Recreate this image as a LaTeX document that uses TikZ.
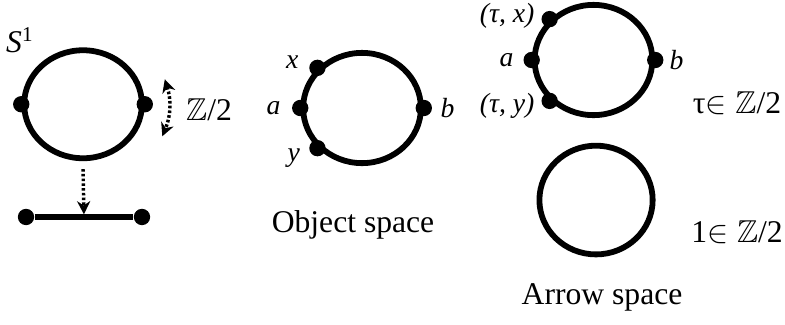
\documentclass[tikz,border=0pt]{standalone}
\usepackage{fontspec}
\usepackage{amssymb}
\setmainfont{Liberation Serif}
\usetikzlibrary{shapes.geometric,positioning,arrows.meta}
\tikzset{
    ring/.style={ellipse, draw=black, line width=2.2pt, minimum width=1.57cm, minimum height=1.47cm, inner sep=0pt},
    dot_node/.style={circle, fill=black, minimum size=6.2pt, inner sep=0pt},
    tag_label/.style={font=\fontsize{10.5}{12}\selectfont\itshape, inner sep=0pt},
    side_label/.style={font=\fontsize{12}{14}\selectfont, inner sep=0pt},
    dotted_arrow/.style={line width=1.3pt, dash pattern=on 1pt off 0.8pt},
    bar_line/.style={line width=2pt}
}

\begin{document}
\begin{tikzpicture}[>={Stealth[length=5pt,width=5pt]}, font=\fontsize{12}{14}\selectfont]
\useasboundingbox (0,0) rectangle (10.4667,4.32);

% the circle and its quotient
\node[ring, minimum height=1.44cm] (s1) at (1.107, 2.93) {};
\node[dot_node] (s1_l) at (s1.west) {};
\node[dot_node] (s1_r) at (s1.east) {};
\node[tag_label, font=\fontsize{12}{14}\selectfont\itshape] (s1_name) at (0.267, 3.787) {S\textsuperscript{\upshape 1}};

\coordinate (flip_top) at ([shift={(17:1.14)}]s1.center);
\coordinate (flip_bot) at ([shift={(-22:1.14)}]s1.center);
\draw[dotted_arrow, <->] (flip_top) to[bend left=20] (flip_bot);
\node[side_label] (flip_name) at (2.787, 2.853) {$\mathbb{Z}$/2};

\node[dot_node] (seg_l) at (0.347, 1.427) {};
\node[dot_node] (seg_r) at (1.893, 1.427) {};
\coordinate (seg_mid) at (1.12, 1.427);
\draw[bar_line] (seg_l) -- (seg_r);
\draw[dotted_arrow, ->, shorten >=1pt] ([yshift=-3pt]s1.south) -- (seg_mid);

% object space
\node[ring] (obj) at (4.827, 2.88) {};
\node[dot_node] (obj_a) at (obj.west) {};
\node[dot_node] (obj_b) at (obj.east) {};
\node[dot_node] (obj_x) at (obj.138) {};
\node[dot_node] (obj_y) at (obj.222) {};
\node[tag_label, left=0.14cm of obj_a] (obj_a_name) {a};
\node[tag_label, right=0.1cm of obj_b] (obj_b_name) {b};
\node[tag_label, left=0.13cm of obj_x, yshift=2.3pt] (obj_x_name) {x};
\node[tag_label, left=0.11cm of obj_y, yshift=-3.8pt] (obj_y_name) {y};
\node (obj_title) at (4.707, 1.32) {Object space};

% arrow space
\node[ring] (arr) at (7.913, 3.52) {};
\node[dot_node] (arr_a) at (arr.west) {};
\node[dot_node] (arr_b) at (arr.east) {};
\node[dot_node] (arr_x) at (arr.137) {};
\node[dot_node] (arr_y) at (arr.223) {};
\node[tag_label, left=0.12cm of arr_a] (arr_a_name) {a};
\node[tag_label, right=0.07cm of arr_b] (arr_b_name) {b};
\node[tag_label, left=0.08cm of arr_x, yshift=1.2pt] (arr_x_name) {(τ, x)};
\node[tag_label, left=0.08cm of arr_y, yshift=-2pt] (arr_y_name) {(τ, y)};
\node[side_label] (tau_name) at (9.827, 2.947) {τ$\in\mathbb{Z}$/2};

\node[ring, minimum width=1.51cm, minimum height=1.45cm] (arr_one) at (7.947, 1.653) {};
\node[side_label] (one_name) at (9.827, 1.227) {1$\in\mathbb{Z}$/2};
\node (arr_title) at (8.027, 0.36) {Arrow space};

\end{tikzpicture}
\end{document}
